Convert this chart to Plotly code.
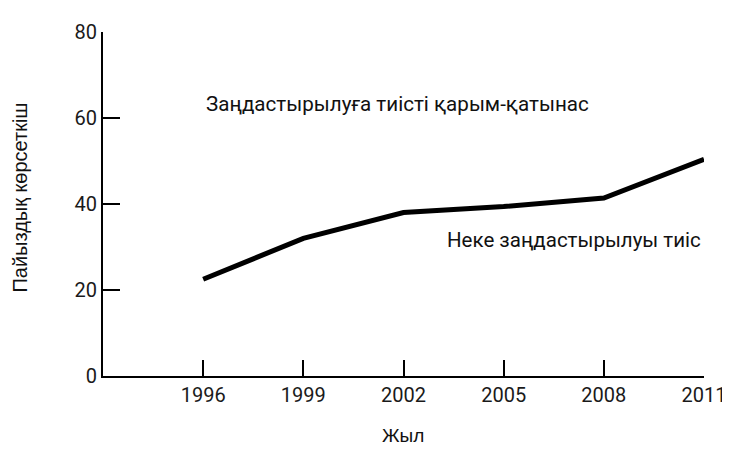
import plotly.graph_objects as go

years = [1996, 1999, 2002, 2005, 2008, 2011]
percent = [22.5, 32.0, 38.0, 39.4, 41.4, 50.4]
x_ticks = [1996, 1999, 2002, 2005, 2008, 2011]
y_ticks = [0, 20, 40, 60, 80]

label_top = "Заңдастырылуға тиісті қарым-қатынас"
label_bottom = "Неке заңдастырылуы тиіс"
x_title = "Жыл"
y_title = "Пайыздық көрсеткіш"

fig = go.Figure()
fig.add_trace(go.Scatter(x=years, y=percent, mode="lines",
                         line=dict(color="black", width=5), showlegend=False,
                         cliponaxis=False))

fig.add_annotation(x=1996.02, y=63.2, xref="x", yref="y", text=label_top,
                   showarrow=False, xanchor="left", yanchor="middle",
                   font=dict(family="Roboto", size=20.6, color="#111"))
fig.add_annotation(x=2003.25, y=31.6, xref="x", yref="y", text=label_bottom,
                   showarrow=False, xanchor="left", yanchor="middle",
                   font=dict(family="Roboto", size=20.5, color="#111"))
fig.add_annotation(x=-0.1373, y=0.52, xref="paper", yref="paper", text=y_title,
                   textangle=-90, showarrow=False, xanchor="center", yanchor="middle",
                   font=dict(family="Liberation Sans", size=20, color="#111"))
fig.add_annotation(x=0.4992, y=-0.172, xref="paper", yref="paper", text=x_title,
                   showarrow=False, xanchor="center", yanchor="middle",
                   font=dict(family="Liberation Sans", size=19, color="#111"))

fig.update_layout(
    width=730, height=449,
    margin=dict(l=95, r=27, t=15, b=81),
    paper_bgcolor="white", plot_bgcolor="white",
    font=dict(family="Roboto", size=20, color="#1a1a1a"),
)
fig.update_xaxes(range=[1993, 2011], tickvals=x_ticks, ticks="inside", ticklen=16,
                 tickwidth=2, tickcolor="black", showline=True, linecolor="black",
                 linewidth=2, showgrid=False, zeroline=False,
                 tickfont=dict(family="Roboto", size=20))
fig.update_yaxes(range=[0, 80], tickvals=y_ticks, ticks="inside", ticklen=17,
                 tickwidth=2, tickcolor="black", showline=True, linecolor="black",
                 linewidth=2, showgrid=False, zeroline=False,
                 tickfont=dict(family="Roboto", size=20))

fig.write_html("out.html")
